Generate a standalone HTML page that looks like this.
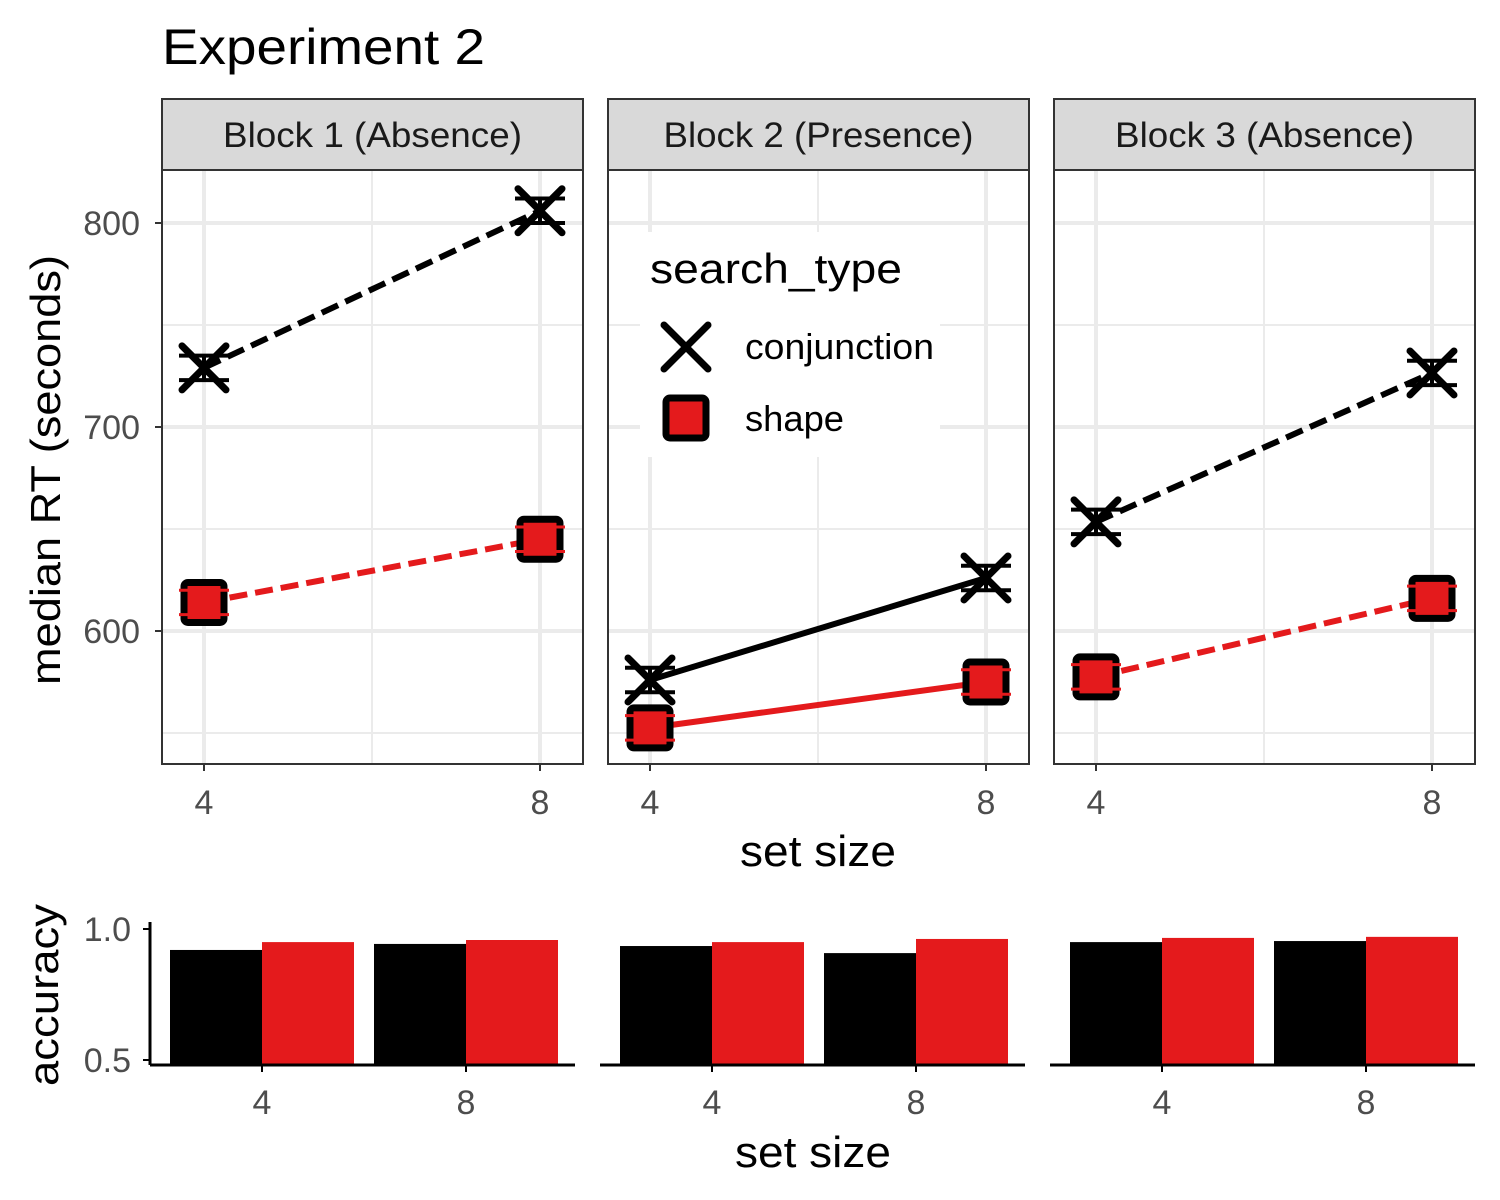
<!DOCTYPE html>
<html><head><meta charset="utf-8"><style>
body{margin:0;background:#fff}
svg{display:block;font-family:"Liberation Sans",Arial,sans-serif}
</style></head><body>
<svg id="chart" width="1500" height="1200" viewBox="0 0 1500 1200" xmlns="http://www.w3.org/2000/svg">
<text x="162" y="64" font-size="50" textLength="323" lengthAdjust="spacingAndGlyphs" fill="#000">Experiment 2</text>
<g id="topPanels"></g>
<g id="bottomPanels"></g>
<text transform="translate(60,470) rotate(-90)" text-anchor="middle" font-size="42" textLength="430" lengthAdjust="spacingAndGlyphs">median RT (seconds)</text>
<text x="818" y="866" text-anchor="middle" font-size="44" textLength="156" lengthAdjust="spacingAndGlyphs">set size</text>
<text transform="translate(58,995) rotate(-90)" text-anchor="middle" font-size="42" textLength="182" lengthAdjust="spacingAndGlyphs">accuracy</text>
<text x="813" y="1167" text-anchor="middle" font-size="44" textLength="156" lengthAdjust="spacingAndGlyphs">set size</text>
<g id="legend">
<rect x="640" y="232" width="300" height="225" fill="#fff"/>
<text x="650" y="283" font-size="42" textLength="252" lengthAdjust="spacingAndGlyphs">search_type</text>
<g stroke="#000" stroke-width="7" stroke-linecap="round"><line x1="664" y1="325" x2="708" y2="369"/><line x1="664" y1="369" x2="708" y2="325"/></g>
<text x="745" y="359" font-size="36" textLength="189" lengthAdjust="spacingAndGlyphs">conjunction</text>
<rect x="666" y="398" width="40" height="40" rx="4" fill="#e41a1c" stroke="#000" stroke-width="7"/>
<text x="745" y="431" font-size="36" textLength="99" lengthAdjust="spacingAndGlyphs">shape</text>
</g>
</svg>
<script>
const blocks = ["Block 1 (Absence)","Block 2 (Presence)","Block 3 (Absence)"];
const setSizes = [4, 8];
const conjRT = [[729, 806],[576, 626],[653.5, 726.5]];
const shapeRT = [[614, 645],[552.5, 575],[577.5, 616]];
const conjErr = [[6, 6],[6, 6],[6, 6]];
const shapeErr = [[6, 6],[6, 6],[6, 6]];
const yTicks = [600, 700, 800];
const yMinor = [550, 650, 750];
const conjAcc = [[0.92, 0.943],[0.935, 0.908],[0.95, 0.954]];
const shapeAcc = [[0.95, 0.958],[0.95, 0.962],[0.966, 0.97]];
const accTicks = [0.5, 1.0];
const dashed = [true, false, true];

const NS = "http://www.w3.org/2000/svg";
function mk(tag, attrs, parent){const e=document.createElementNS(NS,tag);for(const k in attrs)e.setAttribute(k,attrs[k]);parent.appendChild(e);return e;}
const topG = document.getElementById('topPanels');
const bottomG = document.getElementById('bottomPanels');
const panelX = [162, 608, 1054], panelW = 421;
const pTop = 170, pBot = 764;
function yRT(v){return 223 + (800 - v) * 2.04;}
function xRT(p, s){return panelX[p] + 42 + (s - 4) / 4 * 336;}
const RED = "#e41a1c";
const legendEl = document.getElementById('legend');

blocks.forEach((b, p) => {
  const x0 = panelX[p];
  const g = mk('g', {}, topG);
  
  
  const strip = mk('rect', {x:x0, y:99, width:panelW, height:71, fill:"#d9d9d9", stroke:"#333", "stroke-width":2}, g);
  
  
  const st = mk('text', {x:x0+panelW/2, y:147, "text-anchor":"middle", "font-size":35, fill:"#1a1a1a", textLength: (p===1?310:299), lengthAdjust:"spacingAndGlyphs"}, g);
  st.textContent = b;
  
  
  yMinor.forEach(v => mk('line', {x1:x0, x2:x0+panelW, y1:yRT(v), y2:yRT(v), stroke:"#ebebeb", "stroke-width":2}, g));
  mk('line', {x1:xRT(p,6), x2:xRT(p,6), y1:pTop, y2:pBot, stroke:"#ebebeb", "stroke-width":2}, g);
  yTicks.forEach(v => mk('line', {x1:x0, x2:x0+panelW, y1:yRT(v), y2:yRT(v), stroke:"#ebebeb", "stroke-width":4}, g));
  setSizes.forEach(s => mk('line', {x1:xRT(p,s), x2:xRT(p,s), y1:pTop, y2:pBot, stroke:"#ebebeb", "stroke-width":4}, g));
  if (p === 1) g.appendChild(legendEl);
  [[conjRT, conjErr, "#000", 'conjunction'], [shapeRT, shapeErr, RED, 'shape']].forEach(([data, err, col, nm]) => {
    const ln = mk('line', {x1:xRT(p,4), y1:yRT(data[p][0]), x2:xRT(p,8), y2:yRT(data[p][1]), stroke:col, "stroke-width":6}, g);
    if (dashed[p]) ln.setAttribute('stroke-dasharray', '18 8');
    
    
    setSizes.forEach((s, i) => {
      const cx = xRT(p, s), cy = yRT(data[p][i]);
      const yHi = yRT(data[p][i] + err[p][i]), yLo = yRT(data[p][i] - err[p][i]);
      const pg = mk('g', {}, g);
      
      
      if (nm === 'conjunction') {
        mk('line', {x1:cx-22, y1:cy-22, x2:cx+22, y2:cy+22, stroke:"#000", "stroke-width":7, "stroke-linecap":"round"}, pg);
        mk('line', {x1:cx-22, y1:cy+22, x2:cx+22, y2:cy-22, stroke:"#000", "stroke-width":7, "stroke-linecap":"round"}, pg);
        [yHi, yLo].forEach(yy => mk('line', {x1:cx-25, x2:cx+25, y1:yy, y2:yy, stroke:"#000", "stroke-width":4}, pg));
        mk('line', {x1:cx, x2:cx, y1:yHi, y2:yLo, stroke:"#000", "stroke-width":4}, pg);
      } else {
        mk('rect', {x:cx-20, y:cy-20, width:40, height:40, rx:4, fill:RED, stroke:"#000", "stroke-width":7}, pg);
        [yHi, yLo].forEach(yy => mk('line', {x1:cx-25, x2:cx+25, y1:yy, y2:yy, stroke:RED, "stroke-width":3}, pg));
      }
    });
  });
  const fr = mk('rect', {x:x0, y:pTop, width:panelW, height:pBot-pTop, fill:"none", stroke:"#333", "stroke-width":2}, g);
  
  
  setSizes.forEach(s => {
    mk('line', {x1:xRT(p,s), x2:xRT(p,s), y1:pBot, y2:pBot+7, stroke:"#333", "stroke-width":2}, g);
    const t = mk('text', {x:xRT(p,s), y:pBot+50, "text-anchor":"middle", "font-size":34, fill:"#4d4d4d"}, g);
    t.textContent = s;
    
    
  });
  if (p === 0) yTicks.forEach(v => {
    mk('line', {x1:x0-7, x2:x0, y1:yRT(v), y2:yRT(v), stroke:"#333", "stroke-width":2}, g);
    const t = mk('text', {x:x0-22, y:yRT(v)+12, "text-anchor":"end", "font-size":34, fill:"#4d4d4d"}, g);
    t.textContent = v;
    
    
  });
});

const bX = [150, 600, 1050], bW = 425, bBase = 1065;
function yAcc(v){return 1060 - (v - 0.5) * 262;}
blocks.forEach((b, p) => {
  const g = mk('g', {}, bottomG);
  
  
  setSizes.forEach((s, i) => {
    const cx = bX[p] + 112 + i * 204;
    const b1 = mk('rect', {x:cx-92, y:yAcc(conjAcc[p][i]), width:92, height:bBase-yAcc(conjAcc[p][i]), fill:"#000"}, g);
    
    
    const b2 = mk('rect', {x:cx, y:yAcc(shapeAcc[p][i]), width:92, height:bBase-yAcc(shapeAcc[p][i]), fill:RED}, g);
    
    
    mk('line', {x1:cx, x2:cx, y1:bBase, y2:bBase+7, stroke:"#000", "stroke-width":2}, g);
    const t = mk('text', {x:cx, y:bBase+49, "text-anchor":"middle", "font-size":34, fill:"#4d4d4d"}, g);
    t.textContent = s;
    
    
  });
  mk('line', {x1:bX[p], x2:bX[p]+bW, y1:bBase, y2:bBase, stroke:"#000", "stroke-width":3}, g);
  if (p === 0) {
    mk('line', {x1:150, x2:150, y1:922, y2:bBase, stroke:"#000", "stroke-width":3}, g);
    accTicks.forEach(v => {
      mk('line', {x1:143, x2:150, y1:yAcc(v), y2:yAcc(v), stroke:"#000", "stroke-width":2}, g);
      const t = mk('text', {x:131, y:yAcc(v)+12, "text-anchor":"end", "font-size":34, fill:"#4d4d4d"}, g);
      t.textContent = v.toFixed(1);
      
      
    });
  }
});
</script>
</body></html>
